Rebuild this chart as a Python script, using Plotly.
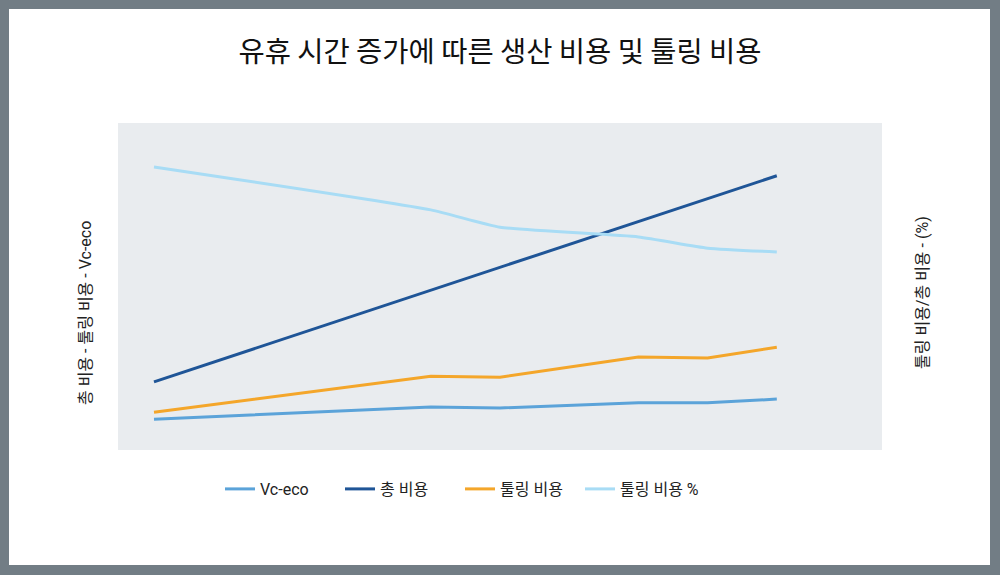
import plotly.graph_objects as go

# ---- data ----
rest_time = [0, 4, 5, 7, 8, 9]
vc_eco = [66, 92, 90, 101, 101, 109]
total_cost = [146, 342, 391, 489, 538, 587]
tooling_cost = [81, 158, 156, 199, 197, 220]
tooling_pct = [60.6, 51.4, 47.7, 45.6, 43.2, 42.4]

names = ["Vc-eco", "총 비용", "툴링 비용", "툴링 비용 %"]
colors = ["#5BA3D9", "#1F5597", "#F4A62A", "#A8DCF5"]
left_title = "총 비용 - 툴링 비용 - Vc-eco"
right_title = "툴링 비용/총 비용 - (%)"
chart_title = "유휴 시간 증가에 따른 생산 비용 및 툴링 비용"

W, H = 1000, 575
ML, MR, MT, MB = 118, 118, 123, 125
PW, PH = W - ML - MR, H - MT - MB

FONT = "Liberation Sans Narrow, Roboto, Noto Sans CJK KR, sans-serif"

fig = go.Figure()
fig.add_trace(go.Scatter(x=rest_time, y=vc_eco, name=names[0], mode="lines",
                         line=dict(color=colors[0], width=3)))
fig.add_trace(go.Scatter(x=rest_time, y=total_cost, name=names[1], mode="lines",
                         line=dict(color=colors[1], width=3)))
fig.add_trace(go.Scatter(x=rest_time, y=tooling_cost, name=names[2], mode="lines",
                         line=dict(color=colors[2], width=3)))
fig.add_trace(go.Scatter(x=rest_time, y=tooling_pct, name=names[3], mode="lines",
                         line=dict(color=colors[3], width=3, shape="spline", smoothing=0.5),
                         yaxis="y2"))

def px_x(px):
    return (px - ML) / PW

def px_y(py):
    return (H - MB - py) / PH

frame = "#727D85"
shapes = []
for (x0, y0, x1, y1) in [(-5, -5, 9, H + 5), (990, -5, W + 5, H + 5),
                         (-5, -5, W + 5, 9), (-5, 565, W + 5, H + 5)]:
    shapes.append(dict(type="rect", xref="paper", yref="paper",
                       x0=px_x(x0), x1=px_x(x1), y0=px_y(y1), y1=px_y(y0),
                       fillcolor=frame, line=dict(width=0), layer="above"))

annotations = [
    dict(text=left_title, xref="paper", yref="paper", x=px_x(85), y=px_y(313),
         xanchor="center", yanchor="middle", textangle=-90, showarrow=False,
         font=dict(size=16, color="#222222")),
    dict(text=right_title, xref="paper", yref="paper", x=px_x(922), y=px_y(293),
         xanchor="center", yanchor="middle", textangle=-90, showarrow=False,
         font=dict(size=16, color="#222222")),
]

fig.update_layout(
    width=W, height=H,
    margin=dict(l=ML, r=MR, t=MT, b=MB, autoexpand=False),
    paper_bgcolor="white",
    plot_bgcolor="#E9ECEF",
    font=dict(family=FONT, color="#222222", size=16),
    title=dict(text=chart_title,
               x=0.5, xanchor="center", y=1 - 52 / H, yanchor="middle",
               font=dict(family="Noto Sans CJK KR, sans-serif", size=28.5, color="#111111")),
    xaxis=dict(range=[-0.52, 10.52], showgrid=False, zeroline=False,
               showticklabels=False, ticks=""),
    yaxis=dict(range=[0, 700], showgrid=False, zeroline=False, showticklabels=False,
               ticks=""),
    yaxis2=dict(range=[0, 70], overlaying="y", side="right", showgrid=False,
                zeroline=False, showticklabels=False, ticks=""),
    legend=dict(orientation="h", x=px_x(220), xanchor="left", y=px_y(489), yanchor="middle",
                font=dict(size=16), bgcolor="rgba(0,0,0,0)",
                entrywidth=75, entrywidthmode="pixels"),
    showlegend=True,
    shapes=shapes,
    annotations=annotations,
)

fig.write_html("out.html")
